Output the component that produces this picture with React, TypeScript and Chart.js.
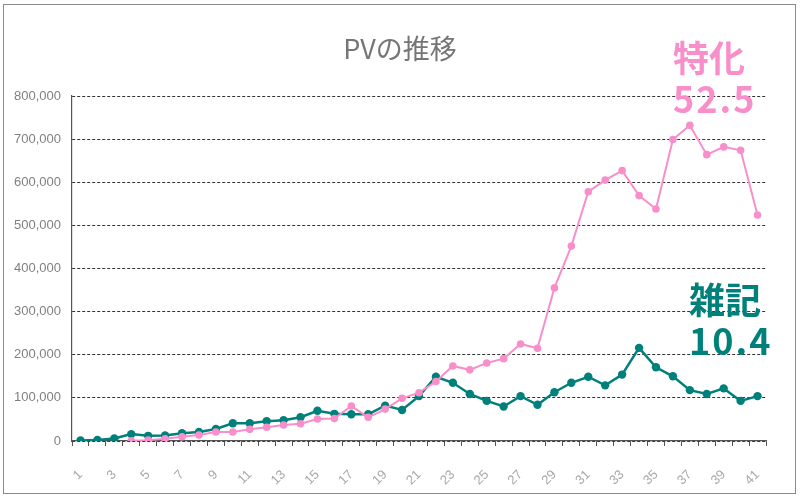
import { useEffect, useRef } from "react";
import { Chart, registerables } from "chart.js";

Chart.register(...registerables);

const weeks = Array.from({ length: 41 }, (_, i) => String(i + 1));

// 特化ブログ (starts at week 4)
const tokkaPV = [
  null, null, null, 500, 2000, 5000, 10000, 14000, 21000, 21000,
  27000, 32000, 37000, 40000, 51000, 52000, 81000, 55000, 74000, 99000,
  112000, 138000, 174000, 165000, 181000, 191000, 225000, 215000, 355000, 452000,
  578000, 605000, 627000, 569000, 538000, 699000, 732000, 664000, 682000, 674000,
  524000,
];

// 雑記ブログ
const zakkiPV = [
  1000, 2500, 6000, 16000, 12000, 13000, 18000, 21000, 28000, 41000,
  41000, 46000, 48000, 55000, 70000, 63000, 62000, 62000, 82000, 72000,
  104000, 149000, 135000, 109000, 93000, 80000, 104000, 84000, 113000, 135000,
  149000, 129000, 154000, 216000, 171000, 150000, 118000, 109000, 122000, 93000,
  104000,
];

const yMax = 800000;
const yStep = 100000;

const PINK = "#f88fca";
const TEAL = "#00807a";

export default function App() {
  const chartRef = useRef<HTMLCanvasElement>(null);
  const chartInstance = useRef<Chart | null>(null);

  useEffect(() => {
    if (!chartRef.current) return;
    if (chartInstance.current) chartInstance.current.destroy();
    const ctx = chartRef.current.getContext("2d");
    if (!ctx) return;

    chartInstance.current = new Chart(ctx, {
      type: "line",
      data: {
        labels: weeks,
        datasets: [
          {
            label: "特化",
            data: tokkaPV,
            borderColor: PINK,
            backgroundColor: PINK,
            borderWidth: 2,
            pointRadius: 3.8,
            pointBorderWidth: 0,
            tension: 0,
            spanGaps: false,
          },
          {
            label: "雑記",
            data: zakkiPV,
            borderColor: TEAL,
            backgroundColor: TEAL,
            borderWidth: 2.5,
            pointRadius: 4.2,
            pointBorderWidth: 0,
            tension: 0,
          },
        ],
      },
      options: {
        responsive: true,
        maintainAspectRatio: false,
        animation: false,
        layout: { padding: { left: 0, right: 34, top: 96, bottom: 0 } },
        plugins: {
          legend: { display: false },
          tooltip: { enabled: false },
        },
        scales: {
          x: {
            offset: true,
            border: { display: true, color: "#555", width: 1.2 },
            grid: {
              offset: true,
              drawOnChartArea: false,
              drawTicks: true,
              tickLength: 5,
              color: "#555",
            },
            ticks: {
              autoSkip: false,
              minRotation: 45,
              maxRotation: 45,
              padding: 21,
              color: "#a8a8a8",
              font: { family: "'Liberation Sans', sans-serif", size: 13 },
              callback: (_v, i) => (i % 2 === 0 ? weeks[i] : ""),
            },
            afterFit: (scale) => {
              scale.height = 56;
            },
          },
          y: {
            min: 0,
            max: yMax,
            border: { display: true, color: "#555", width: 1.2, dash: [3, 2] },
            grid: {
              color: "#333",
              drawTicks: false,
              lineWidth: 1,
            },
            ticks: {
              stepSize: yStep,
              padding: 11,
              color: "#808080",
              font: { family: "'Liberation Sans', sans-serif", size: 13 },
              callback: (v) => Number(v).toLocaleString("en-US"),
            },
            afterFit: (scale) => {
              scale.width = 72;
            },
          },
        },
      },
    });

    return () => {
      if (chartInstance.current) {
        chartInstance.current.destroy();
        chartInstance.current = null;
      }
    };
  }, []);

  const noteFont = "'Noto Sans CJK JP', sans-serif";

  return (
    <div
      style={{
        position: "fixed",
        left: 0,
        top: 0,
        width: 800,
        height: 497,
        background: "#fff",
      }}
    >
      <div
        style={{
          position: "absolute",
          left: 3,
          top: 4,
          width: 791,
          height: 488,
          border: "1.5px solid #8a8a8a",
        }}
      />
      <div style={{ position: "absolute", left: 0, top: 0, width: 800, height: 497 }}>
        <canvas ref={chartRef} />
      </div>
      <div
        style={{
          position: "absolute",
          left: 0,
          width: 800,
          top: 30,
          textAlign: "center",
          color: "#767676",
          fontFamily: noteFont,
          fontSize: 27,
          lineHeight: "36px",
        }}
      >
        PVの推移
      </div>
      <div
        style={{
          position: "absolute",
          left: 673,
          top: 36,
          color: PINK,
          fontFamily: noteFont,
          fontWeight: 700,
          fontSize: 36,
          lineHeight: "41px",
        }}
      >
        特化
        <br />
        <span style={{ letterSpacing: 2 }}>52.5</span>
      </div>
      <div
        style={{
          position: "absolute",
          left: 689,
          top: 278,
          color: TEAL,
          fontFamily: noteFont,
          fontWeight: 700,
          fontSize: 36,
          lineHeight: "41px",
        }}
      >
        雑記
        <br />
        <span style={{ letterSpacing: 2 }}>10.4</span>
      </div>
    </div>
  );
}
